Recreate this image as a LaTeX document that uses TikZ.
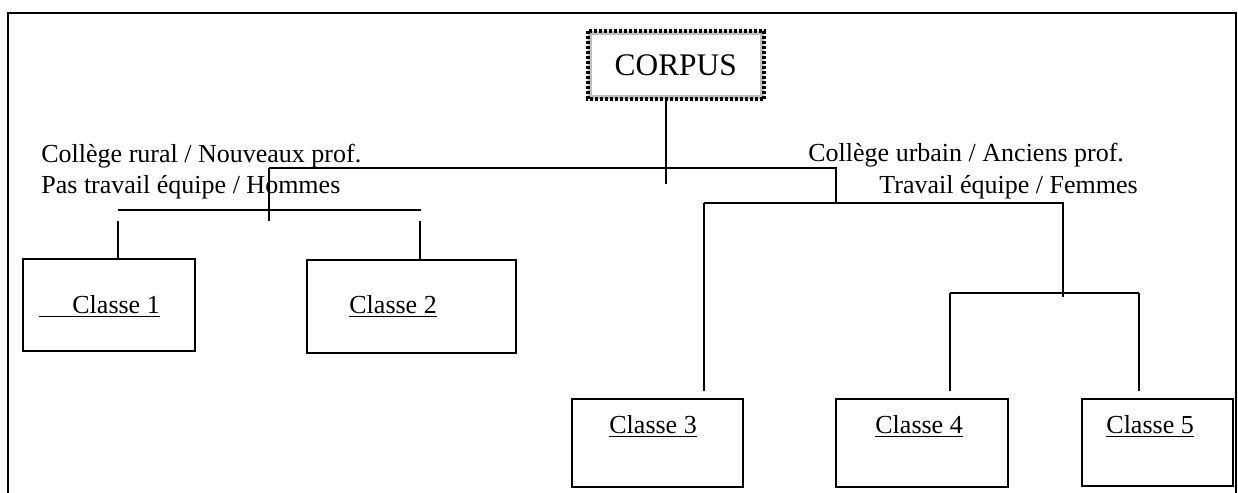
\documentclass[tikz,border=0pt]{standalone}
\usepackage{fontspec}
\setmainfont{Liberation Serif}
\usepackage{tikz}
\usetikzlibrary{calc}

\tikzset{
	frame/.style={line width=1pt},
	branch/.style={line width=0.75pt},
	classbox/.style={draw, line width=1pt, inner sep=0pt},
	lbl/.style={anchor=base west, inner sep=0pt, font=\fontsize{13pt}{15pt}\selectfont},
}

\begin{document}
\begin{tikzpicture}[x=0.5pt,y=-0.5pt]
	\useasboundingbox (0,0) rectangle (1238,493);
	% page frame, open at the bottom
	\draw[frame] (8,493) -- (8,13) -- (1236,13) -- (1236,493);
	% root
	\node[draw=gray!50, line width=2pt, minimum width=86.25pt, minimum height=32pt,
	      inner sep=0pt, font=\fontsize{15.7pt}{18pt}\selectfont] (corpus) at (675.75,65) {CORPUS};
	\draw[line width=2pt, dash pattern=on 1.5pt off 1pt] (corpus.north west) rectangle (corpus.south east);
	% classes
	\node[classbox, minimum width=86pt, minimum height=46pt] (c1) at (109,305) {};
	\node[classbox, minimum width=104.5pt, minimum height=46.5pt] (c2) at (411.5,306.5) {};
	\node[classbox, minimum width=85.5pt, minimum height=44pt] (c3) at (657.5,443) {};
	\node[classbox, minimum width=86pt, minimum height=44pt] (c4) at (922,443) {};
	\node[classbox, minimum width=75.5pt, minimum height=43.5pt] (c5) at (1157.5,442.5) {};
	\node[lbl] (t1) at (39,313) {\underline{\hspace{16.5pt}Classe 1}};
	\node[lbl] (t2) at (349,313) {\underline{Classe 2}};
	\node[lbl] (t3) at (609,433) {\underline{Classe 3}};
	\node[lbl] (t4) at (875,433) {\underline{Classe 4}};
	\node[lbl] (t5) at (1106,433) {\underline{Classe 5}};
	% split labels
	\node[lbl] (rural) at (41,162) {Collège rural / Nouveaux prof.};
	\node[lbl] (pas) at (41,193) {Pas travail équipe / Hommes};
	\node[lbl] (urbain) at (808,161) {Collège urbain / Anciens prof.};
	\node[lbl] (trav) at (879,193) {Travail équipe / Femmes};
	% junctions
	\coordinate (sp) at (666,168);
	\coordinate (spend) at (666,184);
	\coordinate (spL) at (269,168);
	\coordinate (spLend) at (269,221);
	\coordinate (spR) at (836,168);
	\coordinate (spRend) at (836,203);
	\coordinate (hLw) at (118,210);
	\coordinate (hLe) at (421,210);
	\coordinate (dL1) at (118,221);
	\coordinate (dL2) at (420,221);
	\coordinate (hRw) at (704,203);
	\coordinate (hRe) at (1063,203);
	\coordinate (hRend) at (1063,297);
	\coordinate (hSw) at (950,293);
	\coordinate (hSe) at (1139,293);
	% tree
	\draw[branch] (corpus.south -| sp) -- (spend);
	\draw[branch] (spL) -- (spR) -- (spRend);
	\draw[branch] (spL) -- (spLend);
	\draw[branch] (hLw) -- (hLe);
	\draw[branch] (dL1) -- (dL1 |- c1.north);
	\draw[branch] (dL2) -- (dL2 |- c2.north);
	\draw[branch] (hRw) -- (hRe) -- (hRend);
	\draw[branch] (hRw) -- ($(hRw |- c3.north)+(0,-7)$);
	\draw[branch] (hSw) -- (hSe);
	\draw[branch] (hSw) -- ($(hSw |- c4.north)+(0,-7)$);
	\draw[branch] (hSe) -- ($(hSe |- c5.north)+(0,-7)$);
\end{tikzpicture}
\end{document}
